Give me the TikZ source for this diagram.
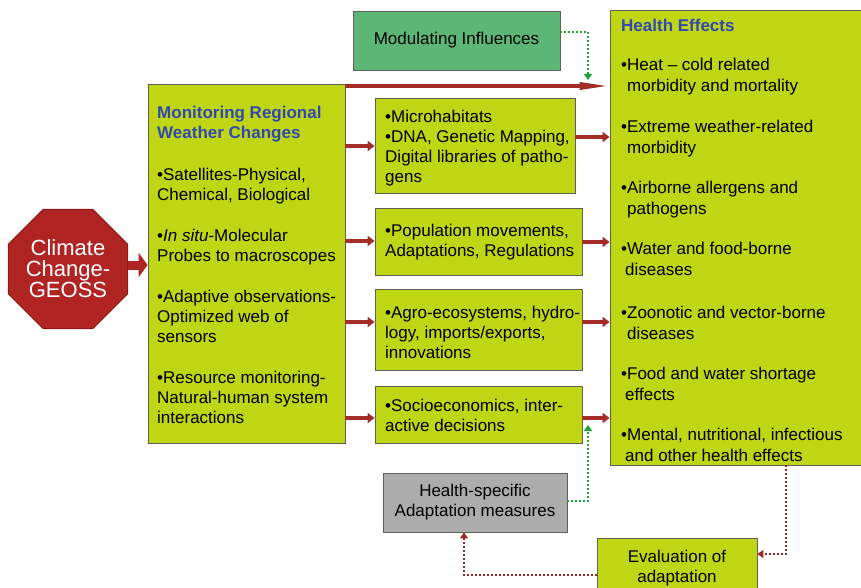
\documentclass[tikz,border=0pt]{standalone}
\usepackage{fontspec}
\setmainfont{Liberation Sans}
\usetikzlibrary{shapes.geometric,arrows.meta}
\definecolor{ygreen}{RGB}{190,214,20}
\definecolor{boxborder}{RGB}{95,95,85}
\definecolor{titleblue}{RGB}{50,72,175}
\definecolor{arrred}{RGB}{165,45,40}
\definecolor{octred}{RGB}{176,36,36}
\definecolor{octborder}{RGB}{140,25,25}
\definecolor{modgreen}{RGB}{92,182,118}
\definecolor{hsgray}{RGB}{172,172,172}
\definecolor{dotgreen}{RGB}{35,160,55}
\definecolor{dotred}{RGB}{155,40,40}
\newcommand{\mytitle}[1]{\textcolor{titleblue}{\bfseries #1}}
\tikzset{
  ybox/.style={draw=boxborder, line width=0.8pt, fill=ygreen, inner sep=0pt},
  cbox/.style={draw=boxborder, line width=0.8pt, align=center,
    inner sep=0pt, font=\fontsize{17}{20}\selectfont},
  boxtext/.style={anchor=west, align=left, inner sep=0pt, font=\fontsize{17}{20}\selectfont},
  redarrow/.style={draw=arrred, line width=3.5pt, -{Triangle[length=7pt,width=10pt]}},
  greendot/.style={draw=dotgreen, line width=2pt, dotted, -{Triangle[length=6pt,width=8pt]}},
  reddot/.style={draw=dotred, line width=2pt, dotted, -{Triangle[length=6pt,width=8pt]}}
}
\begin{document}
\begin{tikzpicture}[x=1pt,y=-1pt]
\useasboundingbox (0,0) rectangle (861,588);
\clip (0,0) rectangle (861,588);

% octagon
\node[regular polygon, regular polygon sides=8, minimum size=126pt, inner sep=0pt,
  fill=octred, draw=octborder, line width=1pt, text=white, align=center,
  font=\fontsize{22}{21}\selectfont] (oct) at (68,269) {Climate\\Change-\\GEOSS};

% left box
\node[ybox, minimum width=197pt, minimum height=359pt] (lbox) at (246.5,263.5) {};
\node[boxtext] (ltext) at (157,265) {\mytitle{Monitoring Regional}\\\mytitle{Weather Changes}\\[22pt]
  •Satellites-Physical,\\Chemical, Biological\\[21pt]
  •\textit{In situ}-Molecular\\Probes to macroscopes\\[21pt]
  •Adaptive observations-\\Optimized web of\\sensors\\[21pt]
  •Resource monitoring-\\Natural-human system\\interactions};

% modulating influences
\node[cbox, fill=modgreen, minimum width=207pt, minimum height=59pt] (mod) at (456.5,40.5)
  {Modulating Influences};

% middle boxes
\node[ybox, minimum width=200pt, minimum height=95pt] (b1) at (475,145.5) {};
\node[boxtext] (t1) at (385,148) {•Microhabitats\\•DNA, Genetic Mapping,\\Digital libraries of patho-\\gens};
\node[ybox, minimum width=207pt, minimum height=67pt] (b2) at (478.5,241.5) {};
\node[boxtext] (t2) at (385,242) {•Population movements,\\Adaptations, Regulations};
\node[ybox, minimum width=207pt, minimum height=81pt] (b3) at (478.5,329.5) {};
\node[boxtext] (t3) at (385,332.5) {•Agro-ecosystems, hydro-\\logy, imports/exports,\\innovations};
\node[ybox, minimum width=207pt, minimum height=57pt] (b4) at (478.5,414.5) {};
\node[boxtext] (t4) at (385,415) {•Socioeconomics, inter-\\active decisions};

% health effects
\node[ybox, minimum width=256pt, minimum height=455pt] (health) at (738,237.5) {};
\node[boxtext, font=\fontsize{17}{21}\selectfont] (htext) at (621,240) {\mytitle{Health Effects}\\[18pt]
  •Heat – cold related\\\hspace*{6pt}morbidity and mortality\\[20pt]
  •Extreme weather-related\\\hspace*{6pt}morbidity\\[19pt]
  •Airborne allergens and\\\hspace*{6pt}pathogens\\[19pt]
  •Water and food-borne\\\hspace*{4pt}diseases\\[22pt]
  •Zoonotic and vector-borne\\\hspace*{6pt}diseases\\[19pt]
  •Food and water shortage\\\hspace*{4pt}effects\\[19pt]
  •Mental, nutritional, infectious\\\hspace*{4pt}and other health effects};

% health-specific adaptation
\node[cbox, fill=hsgray, minimum width=184pt, minimum height=59pt] (hsa) at (475,502.5)
  {Health-specific\\Adaptation measures};

% evaluation
\node[cbox, fill=ygreen, minimum width=160pt, minimum height=61pt] (eval) at (677,568.5)
  {Evaluation of\\adaptation};

% octagon -> left box
\draw[draw=octred, line width=9pt, -{Triangle[length=9pt,width=24pt]}]
  (oct.east |- 0,265) -- (lbox.west |- 0,265);

% top long arrow
\draw[draw=arrred, line width=3.5pt, -{Triangle[length=30pt,width=7pt]}]
  (lbox.east |- 0,86) -- (health.west |- 0,86);

% left -> middle
\draw[redarrow] (lbox.east |- 0,146) -- (b1.west |- 0,146);
\draw[redarrow] (lbox.east |- 0,241) -- (b2.west |- 0,241);
\draw[redarrow] (lbox.east |- 0,322) -- (b3.west |- 0,322);
\draw[redarrow] (lbox.east |- 0,418) -- (b4.west |- 0,418);

% middle -> health
\draw[redarrow] (b1.east |- 0,137) -- (health.west |- 0,137);
\draw[redarrow] (b2.east |- 0,242) -- (health.west |- 0,242);
\draw[redarrow] (b3.east |- 0,322) -- (health.west |- 0,322);
\draw[redarrow] (b4.east |- 0,418) -- (health.west |- 0,418);

% green dotted
\coordinate (gtip1) at (588,80);
\coordinate (gtip2) at (588,425);
\draw[greendot] (mod.east |- 0,32) -| (gtip1);
\draw[greendot] (hsa.east |- 0,501) -| (gtip2);

% red dotted
\draw[reddot] (health.south -| 786,0) |- (eval.east |- 0,554);
\draw[reddot] (eval.west |- 0,575) -| (hsa.south -| 464,0);
\end{tikzpicture}
\end{document}
